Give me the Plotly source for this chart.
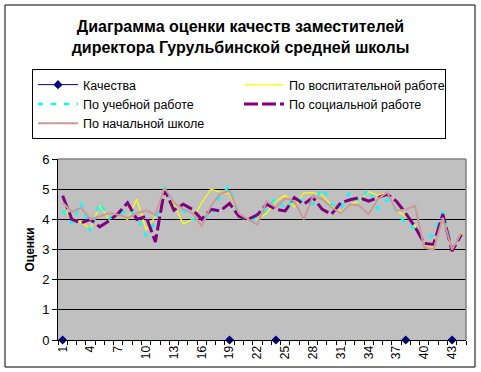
import plotly.graph_objects as go

categories = list(range(1, 45))
tick_labels = [str(i) for i in range(1, 44, 3)]

kachestva = [None] * 44
for c in (1, 19, 24, 38, 43):
    kachestva[c - 1] = 0

vospit = [4.3, 4.05, 3.9, 3.7, 4.45, 4.0, 4.15, 4.0, 4.67, 3.65, 4.1, 5.0,
          4.5, 3.85, 4.0, 4.55, 5.0, 4.9, 4.85, 4.2, 4.0, 4.0, 4.2, 4.6,
          4.8, 4.4, 4.88, 4.88, 4.8, 4.45, 4.25, 4.5, 4.6, 4.92, 4.8, 4.88,
          4.3, 4.1, 3.8, 3.15, 3.1, 4.0, 3.0, 3.6]
uchebn = [4.3, 3.85, 4.55, 3.6, 4.55, 4.05, 4.1, 4.35, 4.1, 3.45, 3.9, 5.1,
          4.3, 4.3, 4.0, 4.1, 4.05, 4.8, 5.1, 4.1, 3.95, 4.05, 4.35, 4.7,
          4.35, 4.72, 4.6, 4.5, 5.05, 4.5, 4.35, 4.9, 4.6, 5.0, 4.35, 4.65,
          4.3, 3.83, 3.7, 3.3, 3.5, 4.25, 3.0, 3.55]
social = [4.78, 4.0, 3.88, 4.0, 3.75, 3.95, 4.2, 4.55, 4.0, 4.1, 3.25, 5.0,
          4.3, 4.5, 4.33, 4.0, 4.33, 4.28, 4.53, 4.1, 4.0, 4.15, 4.5, 4.33,
          4.28, 4.72, 4.5, 4.72, 4.33, 4.17, 4.55, 4.65, 4.72, 4.6, 4.72, 4.83,
          4.6, 4.2, 3.75, 3.2, 3.17, 4.17, 2.95, 3.5]
nachaln = [4.55, 4.25, 4.38, 4.0, 4.1, 4.2, 4.15, 4.05, 4.2, 4.3, 4.15, 5.05,
           4.55, 4.35, 4.2, 3.78, 4.45, 4.85, 4.95, 4.2, 4.0, 3.83, 4.6, 4.4,
           4.7, 4.6, 4.0, 4.78, 4.67, 4.4, 4.2, 4.5, 4.45, 4.17, 4.67, 4.9,
           4.28, 4.33, 4.45, 3.05, 3.0, 4.05, 3.0, 3.55]

FONT = "Liberation Sans, Arial, sans-serif"

fig = go.Figure()
fig.add_trace(go.Scatter(x=categories, y=kachestva, name="Качества",
                         mode="lines+markers", connectgaps=False, cliponaxis=False,
                         line=dict(color="#000080", width=1),
                         marker=dict(symbol="diamond", size=7, color="#000080")))
fig.add_trace(go.Scatter(x=categories, y=vospit, name="По воспитательной работе",
                         mode="lines", line=dict(color="#FFFF00", width=1.2)))
fig.add_trace(go.Scatter(x=categories, y=uchebn, name="По учебной работе",
                         mode="lines", line=dict(color="#00FFFF", width=2.5, dash="5px,8px")))
fig.add_trace(go.Scatter(x=categories, y=social, name="По социальной работе",
                         mode="lines", line=dict(color="#800080", width=3, dash="14px,4px")))
fig.add_trace(go.Scatter(x=categories, y=nachaln, name="По начальной школе",
                         mode="lines", line=dict(color="#CC9999", width=2)))

L, R, T, B = 58, 466, 159, 340
W, H = 481, 372
pw, ph = R - L, B - T

def px_x(x):
    return (x - L) / pw

def px_y(y):
    return (B - y) / ph

fig.update_layout(
    width=W, height=H,
    margin=dict(l=L, r=W - R, t=T, b=H - B, autoexpand=False),
    paper_bgcolor="white", plot_bgcolor="#C0C0C0",
    font=dict(family=FONT, size=12, color="black"),
    showlegend=True,
    title=dict(text="<b>Диаграмма оценки качеств заместителей<br>директора Гурульбинской средней школы</b>",
               x=0.5, xref="container", xanchor="center",
               y=1 - 32 / H, yref="container", yanchor="middle",
               font=dict(family=FONT, size=16, color="black")),
    legend=dict(orientation="h", x=px_x(32), xanchor="left", y=px_y(69), yanchor="top",
                entrywidth=151, entrywidthmode="pixels", itemwidth=40,
                bordercolor="black", borderwidth=1, bgcolor="white",
                font=dict(family=FONT, size=12.5, color="black"), traceorder="normal"),
    xaxis=dict(range=[0.5, 44.5], tickmode="array", tickvals=list(range(1, 44, 3)),
               ticktext=tick_labels, tickangle=-90, ticks="", showgrid=False,
               zeroline=False, showline=True, linecolor="black", linewidth=1,
               automargin=False, tickfont=dict(size=12),
               minor=dict(tickmode="linear", tick0=0.5, dtick=1, ticks="outside",
                          ticklen=4, tickcolor="black", tickwidth=1, showgrid=False)),
    yaxis=dict(range=[0, 6], dtick=1, tick0=0, showgrid=True, gridcolor="black",
               gridwidth=1, zeroline=False, showline=True, linecolor="black",
               ticks="outside", ticklen=5, tickcolor="black", automargin=False,
               tickfont=dict(size=13),
               title=dict(text="<b>Оценки</b>", font=dict(size=12), standoff=4)),
    shapes=[
        dict(type="rect", xref="paper", yref="paper", x0=px_x(5), x1=px_x(475),
             y0=px_y(367), y1=px_y(5), line=dict(color="black", width=1), layer="below"),
        dict(type="line", xref="paper", yref="paper", x0=0, x1=1, y0=1, y1=1,
             line=dict(color="#808080", width=1.5)),
        dict(type="line", xref="paper", yref="paper", x0=1, x1=1, y0=0, y1=1,
             line=dict(color="#808080", width=1.5)),
    ],
)

fig.write_html("out.html", config={"displayModeBar": False},
               post_script="document.body.style.margin='0';")
